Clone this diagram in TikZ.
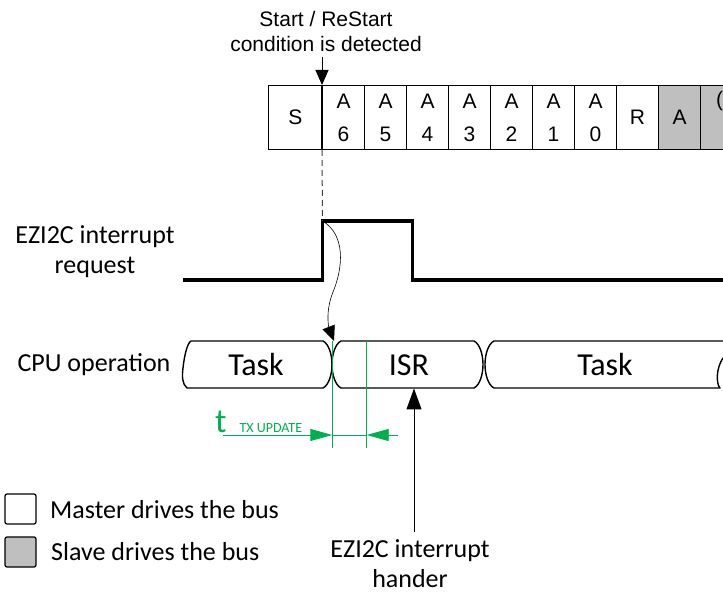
\documentclass[tikz,border=0pt]{standalone}
\usepackage{fontspec}
\setmainfont{Carlito}
\newfontfamily\arialfont{Liberation Sans}
\usetikzlibrary{arrows.meta}
\definecolor{busgrey}{RGB}{191,191,191}
\definecolor{tgreen}{RGB}{0,176,80}
\definecolor{dashgrey}{RGB}{64,64,64}

\begin{document}
\begin{tikzpicture}[x=1pt,y=-1pt,
  bitcell/.style={draw, line width=1pt, minimum width=42pt, minimum height=64pt,
    inner sep=0pt, anchor=north west, align=center,
    font=\arialfont\fontsize{21}{33}\selectfont},
  slavecell/.style={bitcell, fill=busgrey},
  band/.style={draw, line width=1.4pt, line join=round},
  pulse/.style={line width=3.6pt, line join=miter},
  label/.style={font=\fontsize{26}{30}\selectfont, align=center, inner sep=0pt},
  slotlabel/.style={font=\fontsize{32}{32}\selectfont, inner sep=0pt, anchor=base},
  legendbox/.style={draw, line width=1.2pt, rounded corners=2pt},
  timing/.style={tgreen, line width=0.9pt},
  bigtip/.style={-{Triangle[length=21pt,width=15pt]}},
  smalltip/.style={-{Triangle[length=15pt,width=13pt]}},
  greentip/.style={-{Triangle[length=22pt,width=12pt]}}
]
\useasboundingbox (0,0) rectangle (723,593);
\clip (0,0) rectangle (723,593);

% --- start condition label and marker
\node[font=\arialfont\fontsize{21}{25}\selectfont, align=center, inner sep=0pt]
  (startlbl) at (326,31.5) {Start / ReStart\\condition is detected};

% --- address byte on the bus
\node[bitcell, minimum width=54pt] (cS) at (268,85) {S};
\node[bitcell] (c6) at (322,85) {A\\6};
\node[bitcell] (c5) at (364,85) {A\\5};
\node[bitcell] (c4) at (406,85) {A\\4};
\node[bitcell] (c3) at (448,85) {A\\3};
\node[bitcell] (c2) at (490,85) {A\\2};
\node[bitcell] (c1) at (532,85) {A\\1};
\node[bitcell] (c0) at (574,85) {A\\0};
\node[bitcell] (cR) at (616,85) {R};
\node[slavecell] (cA) at (658,85) {A};
\node[slavecell] (cN) at (700,85) {};
\node[font=\arialfont\fontsize{21}{24}\selectfont, inner sep=0pt, anchor=west]
  (cNtxt) at (716,101) {(};

\coordinate (startarrow) at (322,57);
\draw[line width=1pt, smalltip] (startarrow) -- (c6.north west);
\draw[line width=1.4pt] (c6.north west) -- (c6.south west);

% --- interrupt request waveform
\coordinate (p0) at (183,280);
\coordinate (prise) at (322.5,280);
\coordinate (ptop) at (322.5,221);
\coordinate (pfall) at (412.5,221);
\coordinate (plow) at (412.5,280);
\coordinate (pend) at (740,280);
\draw[pulse] (p0) -- (prise) -- (ptop) -- (pfall) -- (plow) -- (pend);
\draw[dashgrey, line width=1pt, dash pattern=on 6pt off 4pt] (c6.south west) -- (ptop);

\node[label] (irqlbl) at (95,252) {EZI2C interrupt\\request};

% --- CPU operation band
\node[label, anchor=base] (cpulbl) at (94,372) {CPU operation};

% first task slot
\draw[band] (191,341) -- (323,341)
  .. controls (329,344) and (332,355) .. (332,364.5)
  .. controls (332,374) and (329,385) .. (323,388) -- (187,388)
  .. controls (182,384) and (182,376) .. (183,368)
  .. controls (184,358) and (187,343) .. (191,341);
% ISR slot
\draw[band] (341,341) -- (474,341)
  .. controls (480,344) and (483,355) .. (483,364.5)
  .. controls (483,374) and (480,385) .. (474,388) -- (341,388)
  .. controls (335,385) and (332,374) .. (332,364.5)
  .. controls (332,355) and (335,344) .. (341,341);
% second task slot, running on past the edge
\draw[band] (740,341) -- (494,341)
  .. controls (488,344) and (485,355) .. (485,364.5)
  .. controls (485,374) and (488,385) .. (494,388) -- (720,388)
  .. controls (716,384) and (716,368) .. (723,358);

\node[slotlabel] (task1) at (256,376) {Task};
\node[slotlabel] (isr) at (409,376) {ISR};
\node[slotlabel] (task2) at (605,376) {Task};

% request propagates to the CPU
\coordinate (isrtip) at (334,341);
\draw[line width=0.6pt, smalltip] (ptop)
  .. controls (346,235) and (343,268) .. (333,292)
  .. controls (325,312) and (329,328) .. (isrtip);

% --- update time
\coordinate (g1top) at (332.3,341);
\coordinate (g1bot) at (332.3,448);
\coordinate (g2top) at (366.7,341);
\coordinate (g2bot) at (366.7,448);
\coordinate (gleft) at (223,435);
\coordinate (gright) at (398,435);
\coordinate (g1mid) at (332.3,435);
\coordinate (g2mid) at (366.7,435);
\draw[timing, line width=0.8pt] (g1top) -- (g1bot);
\draw[timing, line width=0.8pt] (g2top) -- (g2bot);
\draw[timing] (g1mid) -- (g2mid);
\draw[timing, greentip] (gleft) -- (g1mid);
\draw[timing, greentip] (gright) -- (g2mid);
\node[tgreen, inner sep=0pt, anchor=base west] (tupd) at (215,432)
  {\fontsize{34}{34}\selectfont t\hspace{13pt}\fontsize{14}{14}\selectfont TX UPDATE};

% --- interrupt handler
\node[label] (hndlbl) at (410,564) {EZI2C interrupt\\hander};
\coordinate (hndarrow) at (414,532);
\coordinate (hndtip) at (414,388.5);
\draw[line width=1pt, bigtip] (hndarrow) -- (hndtip);

% --- legend
\draw[legendbox] (5,494) rectangle (36,524);
\draw[legendbox, fill=busgrey] (5,537) rectangle (36,567);
\node[label, anchor=west] (lgmaster) at (50,510) {Master drives the bus};
\node[label, anchor=west] (lgslave) at (51,552) {Slave drives the bus};
\end{tikzpicture}
\end{document}
